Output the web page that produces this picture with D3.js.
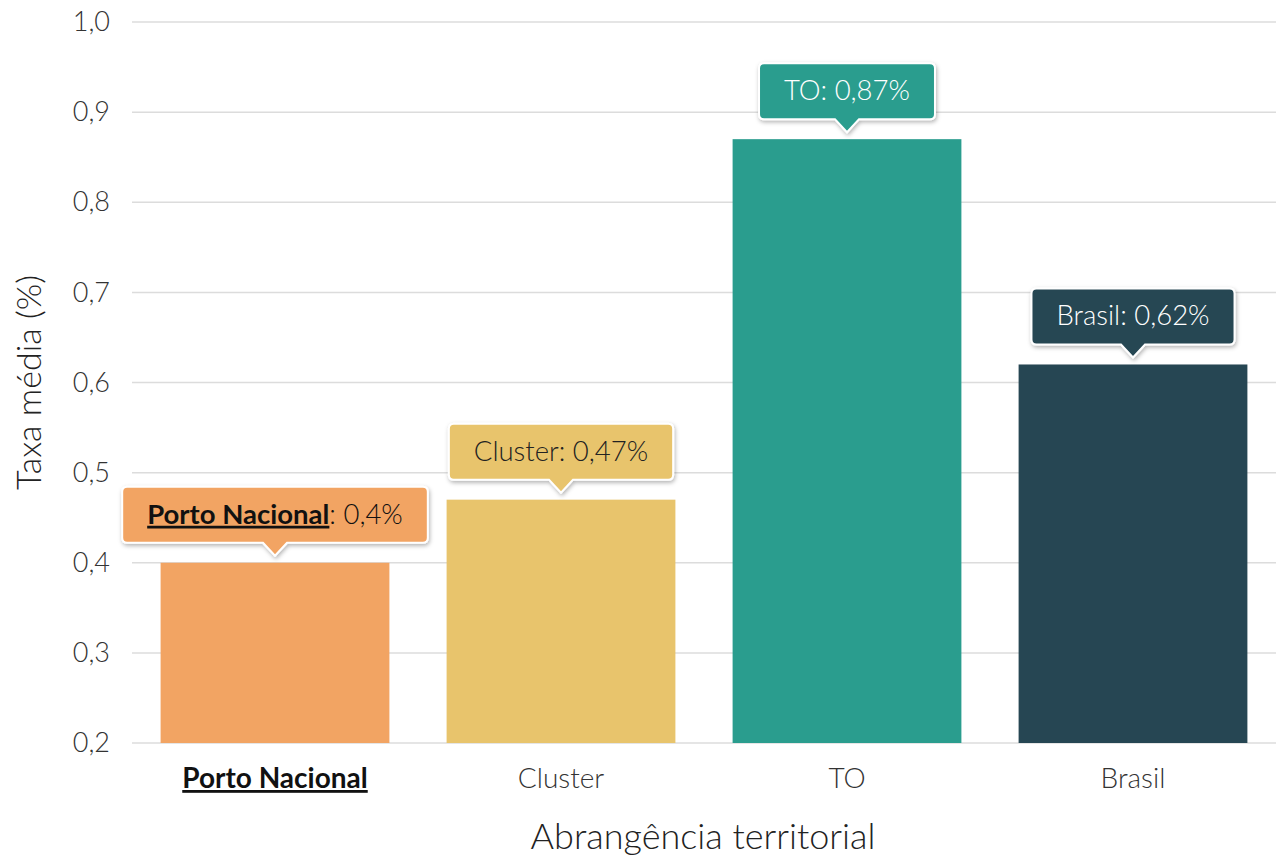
<!DOCTYPE html>
<html>
<head>
<meta charset="utf-8">
<script src="https://cdn.jsdelivr.net/npm/d3@7"></script>
<style>
  body { margin: 0; background: #fff; }
  text { font-family: Lato, sans-serif; }
</style>
</head>
<body>
<script>
// data
var categories = ["Porto Nacional", "Cluster", "TO", "Brasil"];
var values = [0.40, 0.47, 0.87, 0.62];
var colors = ["#F2A463", "#E8C46C", "#2A9D8E", "#264653"];
var labelColors = ["#111", "#222", "#fff", "#fff"];
var yTicks = [0.2, 0.3, 0.4, 0.5, 0.6, 0.7, 0.8, 0.9, 1.0];

var width = 1276;
var height = 856;
var plotLeft = 132, plotRight = 1276, plotTop = 22, plotBottom = 743;

var svg = d3.select("body").append("svg")
  .attr("width", width)
  .attr("height", height);

var defs = svg.append("defs");
var shadow = defs.append("filter").attr("id", "shadow")
  .attr("x", "-10%").attr("y", "-20%").attr("width", "120%").attr("height", "150%");
shadow.append("feDropShadow")
  .attr("dx", 1).attr("dy", 2).attr("stdDeviation", 2)
  .attr("flood-color", "#000").attr("flood-opacity", 0.3);

var xScale = d3.scaleBand()
  .domain(categories)
  .range([plotLeft, plotRight])
  .paddingInner(0.2)
  .paddingOuter(0.1);

var yScale = d3.scaleLinear()
  .domain([0.2, 1.0])
  .range([plotBottom, plotTop]);

// grid lines
svg.append("g").selectAll("line")
  .data(yTicks)
  .enter()
  .append("line")
  .attr("x1", plotLeft)
  .attr("x2", plotRight)
  .attr("y1", function(d) { return yScale(d); })
  .attr("y2", function(d) { return yScale(d); })
  .attr("stroke", "#dcdcdc")
  .attr("stroke-width", 1.5);

// y axis labels
var yAxis = d3.axisLeft(yScale)
  .tickValues(yTicks)
  .tickSize(0)
  .tickPadding(22)
  .tickFormat(function(d) { return d3.format(".1f")(d).replace(".", ","); });

var yg = svg.append("g")
  .attr("transform", "translate(" + plotLeft + ",0)")
  .call(yAxis);
yg.select(".domain").remove();
yg.selectAll("text")
  .attr("font-family", "Lato, sans-serif")
  .attr("font-weight", 300)
  .attr("font-size", 27)
  .attr("fill", "#333");

// bars
svg.append("g").selectAll("rect")
  .data(values)
  .enter()
  .append("rect")
  .attr("x", function(d, i) { return xScale(categories[i]); })
  .attr("width", xScale.bandwidth())
  .attr("y", function(d) { return yScale(d); })
  .attr("height", function(d) { return plotBottom - yScale(d); })
  .attr("fill", function(d, i) { return colors[i]; });

// x axis labels
var xg = svg.append("g");
categories.forEach(function(c, i) {
  var t = xg.append("text")
    .attr("x", xScale(c) + xScale.bandwidth() / 2)
    .attr("y", 788)
    .attr("text-anchor", "middle")
    .attr("font-size", 28)
    .text(c);
  if (i === 0) {
    t.attr("font-weight", 700).attr("fill", "#111").attr("text-decoration", "underline");
  } else {
    t.attr("font-weight", 300).attr("fill", "#333");
  }
});

// axis titles
svg.append("text")
  .attr("x", 703)
  .attr("y", 849)
  .attr("text-anchor", "middle")
  .attr("font-size", 36)
  .attr("font-weight", 300)
  .attr("fill", "#222")
  .text("Abrangência territorial");

svg.append("text")
  .attr("transform", "translate(41," + ((plotTop + plotBottom) / 2 + 0) + ") rotate(-90)")
  .attr("text-anchor", "middle")
  .attr("font-size", 34)
  .attr("font-weight", 300)
  .attr("fill", "#222")
  .text("Taxa média (%)");

// tooltips
values.forEach(function(v, i) {
  var cx = xScale(categories[i]) + xScale.bandwidth() / 2;
  var tipY = yScale(v) - 7;
  var boxBottom = tipY - 13;
  var boxH = 56;
  var g = svg.append("g");
  var path = g.append("path");
  var txt = g.append("text")
    .attr("x", cx)
    .attr("y", boxBottom - boxH / 2 + 9)
    .attr("text-anchor", "middle")
    .attr("font-size", 27.5)
    .attr("fill", labelColors[i]);
  var label = categories[i];
  if (i === 0) {
    txt.append("tspan").attr("font-weight", 700).attr("text-decoration", "underline").text(label);
  } else {
    txt.append("tspan").attr("font-weight", 300).text(label);
  }
  txt.append("tspan").attr("font-weight", 300)
    .text(": " + String(v).replace(".", ",") + "%");
  var w = txt.node().getBBox().width + 50;
  var x0 = cx - w / 2, x1 = cx + w / 2, y0 = boxBottom - boxH, y1 = boxBottom, r = 5;
  var d = "M" + (x0 + r) + "," + y0 +
    " L" + (x1 - r) + "," + y0 + " Q" + x1 + "," + y0 + " " + x1 + "," + (y0 + r) +
    " L" + x1 + "," + (y1 - r) + " Q" + x1 + "," + y1 + " " + (x1 - r) + "," + y1 +
    " L" + (cx + 12) + "," + y1 + " L" + cx + "," + tipY + " L" + (cx - 12) + "," + y1 +
    " L" + (x0 + r) + "," + y1 + " Q" + x0 + "," + y1 + " " + x0 + "," + (y1 - r) +
    " L" + x0 + "," + (y0 + r) + " Q" + x0 + "," + y0 + " " + (x0 + r) + "," + y0 + " Z";
  path.attr("d", d)
    .attr("fill", colors[i])
    .attr("stroke", "#fff")
    .attr("stroke-width", 2)
    .attr("filter", "url(#shadow)");
});
</script>
</body>
</html>
